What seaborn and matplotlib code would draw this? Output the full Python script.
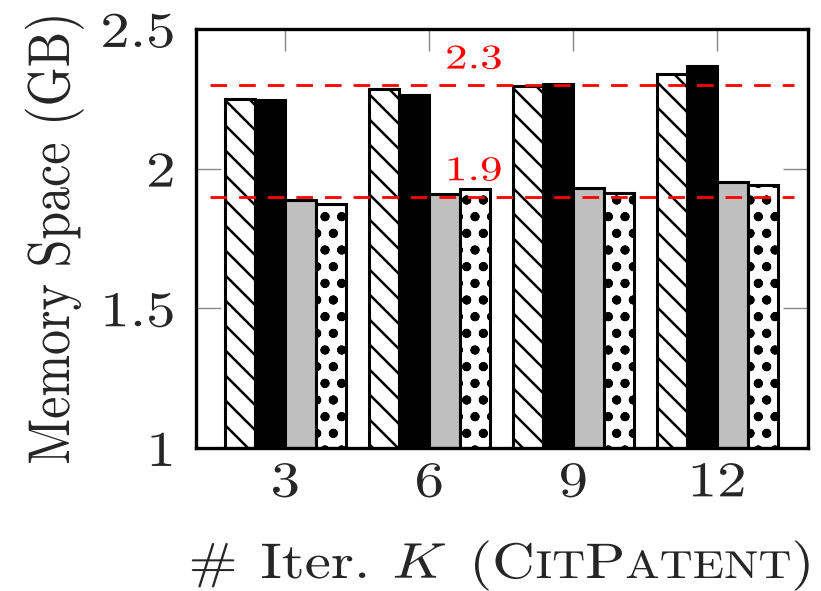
import matplotlib
matplotlib.use("Agg")
import matplotlib.pyplot as plt
import seaborn as sns
import pandas as pd
from matplotlib.patheffects import AbstractPathEffect
from matplotlib.transforms import Affine2D
from matplotlib.backend_bases import GraphicsContextBase

# ---- data ----
iterations = ["3", "6", "9", "12"]
series_names = ["Method A", "Method B", "Method C", "Method D"]
hatched_vals = [2.25, 2.285, 2.297, 2.338]
black_vals = [2.246, 2.264, 2.303, 2.368]
gray_vals = [1.888, 1.909, 1.930, 1.953]
dotted_vals = [1.874, 1.926, 1.914, 1.942]
ref_lines = [2.3, 1.9]
ref_labels = ["2.3", "1.9"]
y_ticks = [1, 1.5, 2, 2.5]
y_ticklabels = ["1", "1.5", "2", "2.5"]

SX = 1.18  # horizontal glyph stretch seen in the reference

# slightly denser diagonal hatch than matplotlib's default
_orig_hatch_path = GraphicsContextBase.get_hatch_path


def _hatch_path(self, density=6.0):
    h = self.get_hatch()
    if h is not None and "\\" in h:
        density = 8.0
    return _orig_hatch_path(self, density)


GraphicsContextBase.get_hatch_path = _hatch_path


class HStretch(AbstractPathEffect):
    def __init__(self, sx=SX, anchor="center"):
        super().__init__()
        self.sx = sx
        self.anchor = anchor

    def draw_path(self, renderer, gc, tpath, affine, rgbFace=None):
        ext = tpath.get_extents(affine)
        if self.anchor == "left":
            x0 = ext.x0
        elif self.anchor == "right":
            x0 = ext.x1
        else:
            x0 = (ext.x0 + ext.x1) / 2
        aff = affine + Affine2D().translate(-x0, 0).scale(self.sx, 1).translate(x0, 0)
        renderer.draw_path(gc, tpath, aff, rgbFace)


sns.set_theme(style="white")
plt.rcParams["font.family"] = ["cmr10", "DejaVu Serif"]
plt.rcParams["mathtext.fontset"] = "cm"
plt.rcParams["axes.formatter.use_mathtext"] = True
plt.rcParams["hatch.linewidth"] = 1.8
plt.rcParams["hatch.color"] = "black"

rows = []
for name, vals in zip(series_names, [hatched_vals, black_vals, gray_vals, dotted_vals]):
    for it, v in zip(iterations, vals):
        rows.append({"K": it, "series": name, "mem": v})
df = pd.DataFrame(rows)

fig = plt.figure(figsize=(8.21, 5.91), dpi=100)
ax = fig.add_axes([196 / 821, 1 - 448 / 591, (808 - 196) / 821, (448 - 29) / 591])

face = ["white", "black", "#bfbfbf", "white"]
hatches = ["\\", "", "", "o."]
sns.barplot(data=df, x="K", y="mem", hue="series", hue_order=series_names,
            order=iterations, palette=face, width=0.84, gap=0, dodge=True,
            edgecolor="black", linewidth=2.2, saturation=1, legend=False, ax=ax)
for cont, h in zip(ax.containers, hatches):
    for p in cont:
        p.set_hatch(h)
        p.set_edgecolor("black")
        p.set_zorder(2)

ax.set_xlim(-0.62, 3.63)
ax.set_ylim(1, 2.5)

# reference dashed lines + labels
for v, lab in zip(ref_lines, ref_labels):
    ax.plot([-0.52, 3.53], [v, v], color="#ff0000", lw=2.0,
            linestyle=(0, (6, 4.3)), zorder=5, clip_on=False)
    ax.text(1.31, v + 0.09, lab, color="#ff0000", fontsize=25,
            ha="center", va="center", zorder=6,
            path_effects=[HStretch(sx=1.3, anchor="center")])

ax.set_yticks(y_ticks)
ax.set_yticklabels(y_ticklabels, fontsize=36)
ax.set_xticks(range(len(iterations)))
ax.set_xticklabels(iterations, fontsize=36)
ax.tick_params(axis="x", bottom=False, top=True, labelbottom=True, labeltop=False,
               direction="in", length=16, width=1.0, color="#888888", pad=9)
ax.tick_params(axis="y", left=True, right=True, direction="in", length=18,
               width=1.0, color="#888888", pad=15)
for t in ax.get_yticklabels():
    t.set_path_effects([HStretch(anchor="right")])
for t in ax.get_xticklabels():
    t.set_path_effects([HStretch(anchor="center")])
for s in ax.spines.values():
    s.set_linewidth(2.4)
    s.set_color("black")
    s.set_zorder(7)

ax.set_xlabel("")
ax.set_ylabel("Memory Space (GB)", fontsize=36,
              path_effects=[HStretch(anchor="center")])
ax.yaxis.set_label_coords(-0.19, 0.5)

# composite x label with small caps
fig.canvas.draw()
r = fig.canvas.get_renderer()
big, small = 36, 28
pieces = [
    (r"$\#$", big, 0.40),
    ("Iter.", big, 0.38),
    (r"$K$", big, 0.38),
    ("(C", big, 0.0),
    ("IT", small, 0.0),
    ("P", big, 0.0),
    ("ATENT", small, 0.0),
    (")", big, 0.0),
]
ybase = 1 - 578 / 591
texts = []
for s, fs, g in pieces:
    t = fig.text(0, ybase, s, fontsize=fs, ha="left", va="baseline",
                 path_effects=[HStretch(anchor="left")])
    texts.append(t)
fig.canvas.draw()
em = big / 72 * fig.dpi
widths = [t.get_window_extent(r).width * SX for t in texts]
total = sum(widths) + sum(g * em * SX for _, _, g in pieces[:-1])
center_px = (196 + 808) / 2
x = center_px - total / 2
for t, w, (_, _, g) in zip(texts, widths, pieces):
    t.set_x(x / fig.bbox.width)
    x += w + g * em * SX

fig.savefig("out.png", dpi=100)
